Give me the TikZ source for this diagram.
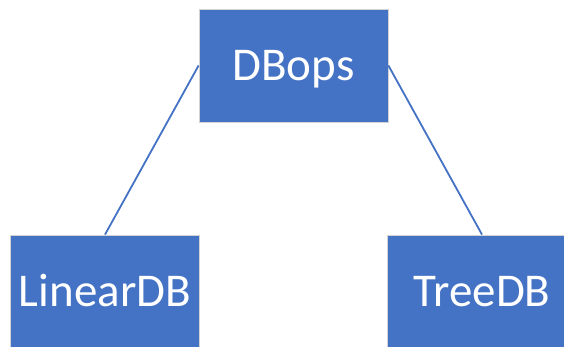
\documentclass[tikz,border=0pt]{standalone}
\usepackage{fontspec}
\setmainfont{Carlito}
\definecolor{boxblue}{HTML}{4472C4}
\begin{document}
\begin{tikzpicture}[x=1pt,y=1pt,
				every node/.style={rectangle,fill=boxblue,draw=gray!35,line width=0.8pt,
					minimum width=189pt,minimum height=113pt,inner sep=0pt,
					text=white,font=\fontsize{47}{56}\selectfont,
					text height=30pt,text depth=0pt},
				link/.style={draw=boxblue,line width=1.8pt}]
\useasboundingbox (0,0) rectangle (564,-347);
\node (dbops) at (293.5,-65.5) {DBops};
\node (lineardb) at (105,-291.5) {LinearDB};
\node (treedb) at (482,-291.5) {TreeDB};
\draw[link] (dbops.west) -- (lineardb.north);
\draw[link] (dbops.east) -- (treedb.north);
\end{tikzpicture}
\end{document}
